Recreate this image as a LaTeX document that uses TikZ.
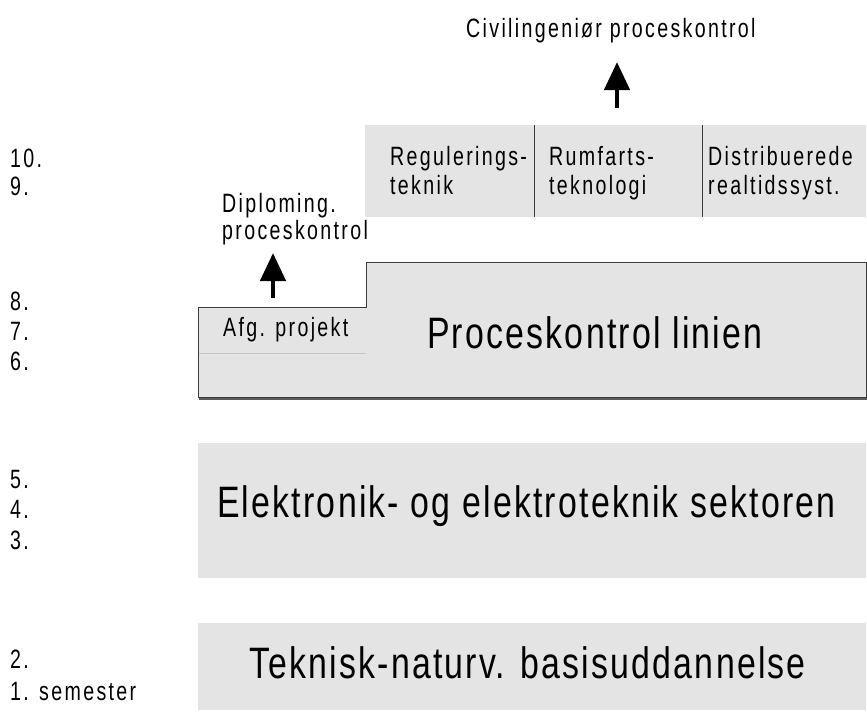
\documentclass[tikz,border=0pt]{standalone}
\usepackage{fontspec}
\setmainfont{Liberation Sans}
\newfontfamily\nfs[FakeStretch=0.74,LetterSpace=8.8]{Liberation Sans}
\newfontfamily\nfl[FakeStretch=0.77,LetterSpace=5]{Liberation Sans}
\usetikzlibrary{arrows.meta}
\definecolor{boxgray}{HTML}{E4E4E4}
\definecolor{edgegray}{HTML}{3C3C3C}
\definecolor{shadowgray}{HTML}{5A5A5A}
\definecolor{thingray}{HTML}{C8C8C8}
\tikzset{
  txtS/.style={font=\nfs\fontsize{26.5}{30}\selectfont, anchor=base west, inner sep=0pt},
  txtL/.style={font=\nfl\fontsize{44}{50}\selectfont, anchor=base west, inner sep=0pt},
  arr/.style={line width=4.5pt, -{Triangle[width=25pt,length=28pt]}},
  panel/.style={fill=boxgray, draw=none, inner sep=0pt, anchor=north west},
  divider/.style={edgegray, line width=1pt},
}
\begin{document}
\begin{tikzpicture}[x=1pt,y=-1pt]
\useasboundingbox (0,0) rectangle (867,718);

% semester labels
\node[txtS] (s10) at (10,167) {10.};
\node[txtS] (s9)  at (10,195) {9.};
\node[txtS] (s8)  at (10,310) {8.};
\node[txtS] (s7)  at (10,340) {7.};
\node[txtS] (s6)  at (10,370) {6.};
\node[txtS] (s5)  at (10,488) {5.};
\node[txtS] (s4)  at (10,518) {4.};
\node[txtS] (s3)  at (10,549) {3.};
\node[txtS] (s2)  at (10,668) {2.};
\node[txtS] (s1)  at (10,700) {1. semester};

% top specialisation panel
\node[panel, minimum width=501pt, minimum height=92pt] (spec) at (365,125) {};
\draw[divider] (spec.north west -| 534,0) -- (spec.south west -| 534,0);
\draw[divider] (spec.north west -| 702,0) -- (spec.south west -| 702,0);
\node[txtS] (reg1) at (390,165) {Regulerings-};
\node[txtS] (reg2) at (390,194) {teknik};
\node[txtS] (rum1) at (549,165) {Rumfarts-};
\node[txtS] (rum2) at (549,194) {teknologi};
\node[txtS] (dis1) at (708,165) {Distribuerede};
\node[txtS] (dis2) at (708,194) {realtidssyst.};

% title and arrow
\node[txtS] (civ) at (466,37) {Civilingeniør proceskontrol};
\coordinate (ca) at (617,108);
\coordinate (cb) at (617,62);
\draw[arr] (ca) -- (cb);

% diplom
\node[txtS] (dip1) at (222,212) {Diploming.};
\node[txtS] (dip2) at (222,239) {proceskontrol};
\coordinate (da) at (273,298);
\coordinate (db) at (273,253);
\draw[arr] (da) -- (db);

% proceskontrol box
\draw[shadowgray, line width=2pt] (867,263) -- (867,398.5) -- (199,398.5);
\fill[boxgray] (198,307) -- (366,307) -- (366,262) -- (866,262) -- (866,397) -- (198,397) -- cycle;
\draw[thingray, line width=0.8pt] (198,353) -- (366,353);
\draw[edgegray, line width=1pt] (198,307) -- (366,307) -- (366,262) -- (866,262) -- (866,397) -- (198,397) -- cycle;
\node[txtS] (afg) at (223,336) {Afg. projekt};
\node[txtL] (pk) at (427,348) {Proceskontrol linien};

% elektronik
\node[panel, minimum width=668pt, minimum height=135pt] (el) at (198,443) {};
\node[txtL] (elt) at (217,517) {Elektronik- og elektroteknik sektoren};

% teknisk
\node[panel, minimum width=668pt, minimum height=87pt] (tk) at (198,623) {};
\node[txtL] (tkt) at (249,678) {Teknisk-naturv. basisuddannelse};
\end{tikzpicture}
\end{document}
